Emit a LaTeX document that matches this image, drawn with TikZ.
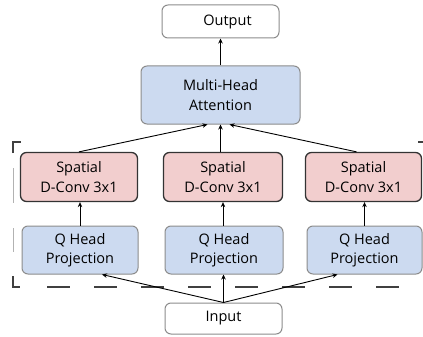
\documentclass[tikz,border=0pt]{standalone}
\usepackage{fontspec}
\setmainfont{Open Sans}
\usetikzlibrary{arrows.meta,calc}
\begin{document}
\begin{tikzpicture}[x=1pt,y=-1pt,
  base/.style={draw, rounded corners=6pt, align=center, inner sep=0pt, font=\fontsize{14.5}{19.5}\selectfont, line width=1pt},
  io/.style={base, draw=black!45, fill=white},
  bluebox/.style={base, draw=black!45, fill={rgb,255:red,204;green,218;blue,240}},
  pinkbox/.style={base, draw=black!80, line width=1.3pt, fill={rgb,255:red,242;green,206;blue,206}},
  arr/.style={-{Stealth[length=5pt,width=4.5pt]}, line width=0.9pt},
  frame/.style={dash pattern=on 23pt off 24pt, line width=1.2pt, black!75}]
\useasboundingbox (0,0) rectangle (423,337);
\node[io, minimum width=117pt, minimum height=33pt] (out) at (220.5,21.5) {\hspace*{14pt}Output};
\node[bluebox, minimum width=159pt, minimum height=58pt] (mha) at (220.5,95) {Multi-Head\\Attention};
\node[pinkbox, minimum width=117pt, minimum height=49pt] (s1) at (79,177) {Spatial\\D-Conv 3x1};
\node[pinkbox, minimum width=119pt, minimum height=49pt] (s2) at (223,177) {Spatial\\D-Conv 3x1};
\node[pinkbox, minimum width=116pt, minimum height=49pt] (s3) at (363.5,177) {Spatial\\D-Conv 3x1};
\node[bluebox, minimum width=116pt, minimum height=48pt] (q1) at (80,250) {Q Head\\Projection};
\node[bluebox, minimum width=118pt, minimum height=48pt] (q2) at (224,250) {Q Head\\Projection};
\node[bluebox, minimum width=115pt, minimum height=48pt] (q3) at (364.5,250) {Q Head\\Projection};
\node[io, minimum width=117pt, minimum height=31pt] (in) at (223.5,318.5) {Input};
% dashed frame
\coordinate (ftl) at (13,142);
\coordinate (fbl) at (13,287);
\coordinate (fbs) at (47,287);
\coordinate (fbr) at (423,287);
\draw[frame] (fbs) -- (fbr);
\draw[line width=1.2pt, black!75] (13,153) -- (ftl) -- (21,142);
\draw[line width=1.2pt, black!75] (13,276) -- (fbl) -- (20,287);
\draw[line width=1pt, black!30] (13,168) -- (13,203) (13,228) -- (13,252);
\draw[line width=1.2pt, black!75] (418,142) -- (423,142);
% arrows
\draw[arr] (mha.north) -- (out.south);
\draw[arr] (s1.north) -- ($(mha.south)+(-13,0)$);
\draw[arr] (s2.north -| mha.south) -- (mha.south);
\draw[arr] ($(s3.north)+(-7,0)$) -- ($(mha.south)+(9,0)$);
\draw[arr] (q1.north) -- (q1.north |- s1.south);
\draw[arr] (q2.north -| s2.south) -- (s2.south);
\draw[arr] (q3.north) -- (q3.north |- s3.south);
\draw[arr] (in.north) -- ($(q1.south)+(22,0)$);
\draw[arr] (in.north) -- (in.north |- q2.south);
\draw[arr] (in.north) -- ($(q3.south)+(-27,0)$);
\end{tikzpicture}
\end{document}
